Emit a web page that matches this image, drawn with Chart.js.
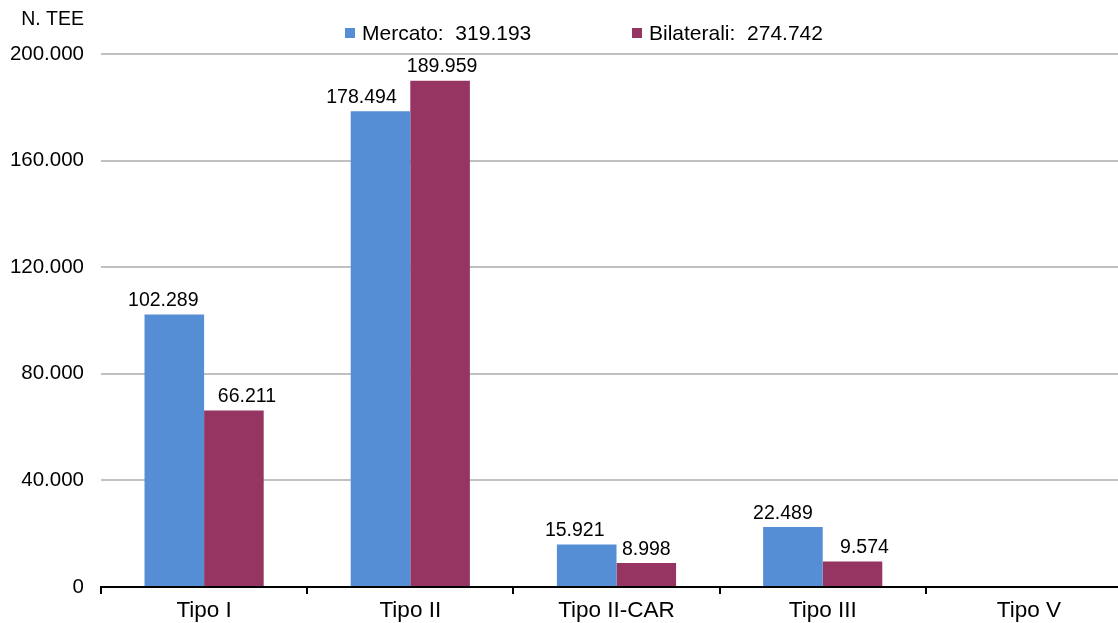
<!DOCTYPE html>
<html lang="it">
<head>
<meta charset="utf-8">
<title>N. TEE per tipologia</title>
<script src="https://cdn.jsdelivr.net/npm/chart.js@4/dist/chart.umd.min.js"></script>
<style>
  html, body { margin: 0; padding: 0; background: #ffffff; overflow: hidden; }
  #wrap { position: relative; width: 1132px; height: 623px; }
</style>
</head>
<body>
<div id="wrap"><canvas id="chart"></canvas></div>
<script>
// Titoli di efficienza energetica per tipologia
const categories = ['Tipo I', 'Tipo II', 'Tipo II-CAR', 'Tipo III', 'Tipo V'];
const mercato    = [102289, 178494, 15921, 22489, 0];
const bilaterali = [66211, 189959, 8998, 9574, 0];
const yTicks     = [0, 40000, 80000, 120000, 160000, 200000];

const seriesNames = ['Mercato', 'Bilaterali'];
const seriesColors = ['#558ED5', '#963462'];

const FONT = 'Liberation Sans, Arial, Helvetica, sans-serif';

// Italian thousands separator
function fmt(v) {
  return String(Math.round(v)).replace(/\B(?=(\d{3})+(?!\d))/g, '.');
}
const sum = a => a.reduce((s, v) => s + v, 0);
const totals = [sum(mercato), sum(bilaterali)];

// Value labels above each bar (nudged sideways so neighbours don't collide)
const valueLabels = {
  id: 'valueLabels',
  afterDatasetsDraw(chart, args, opts) {
    const ctx = chart.ctx;
    ctx.save();
    ctx.font = opts.font;
    ctx.fillStyle = '#000';
    ctx.textAlign = 'center';
    ctx.textBaseline = 'bottom';
    chart.data.datasets.forEach((ds, di) => {
      const meta = chart.getDatasetMeta(di);
      meta.data.forEach((bar, i) => {
        const v = ds.data[i];
        if (!v) return;
        const dx = (opts.shift[di] || [])[i] || 0;
        ctx.fillText(fmt(v), bar.x + dx, bar.y - 4);
      });
    });
    ctx.restore();
  }
};

// Axis caption and legend with series totals
const decorations = {
  id: 'decorations',
  afterDraw(chart, args, opts) {
    const ctx = chart.ctx;
    const area = chart.chartArea;
    ctx.save();
    ctx.fillStyle = '#000';
    ctx.textBaseline = 'middle';
    ctx.textAlign = 'right';
    ctx.font = opts.captionFont;
    ctx.fillText('N. TEE', area.left - 17, 20);

    ctx.textAlign = 'left';
    ctx.font = opts.legendFont;
    opts.legendX.forEach((x, k) => {
      ctx.fillStyle = seriesColors[k];
      ctx.fillRect(x, 28, 10, 10);
      ctx.fillStyle = '#000';
      ctx.fillText(seriesNames[k] + ':  ' + fmt(totals[k]), x + 17, 34);
    });
    ctx.restore();
  }
};

new Chart(document.getElementById('chart'), {
  type: 'bar',
  data: {
    labels: categories,
    datasets: [
      { label: seriesNames[0], data: mercato, backgroundColor: seriesColors[0] },
      { label: seriesNames[1], data: bilaterali, backgroundColor: seriesColors[1] }
    ]
  },
  options: {
    responsive: true,
    maintainAspectRatio: false,
    animation: false,
    layout: { padding: { top: 54, left: 0, right: 0, bottom: 0 } },
    datasets: { bar: { categoryPercentage: 0.578, barPercentage: 1.0 } },
    plugins: {
      legend: { display: false },
      tooltip: { enabled: false },
      valueLabels: {
        font: '19.5px ' + FONT,
        shift: [[-11, -19, -12, -10, 0], [13, 2, 0, 12, 0]]
      },
      decorations: {
        captionFont: '19.5px ' + FONT,
        legendFont: '21px ' + FONT,
        legendX: [345, 632]
      }
    },
    scales: {
      x: {
        afterFit(scale) { scale.height = 36; },
        grid: {
          display: true,
          drawOnChartArea: false,
          drawTicks: true,
          tickLength: 7,
          color: '#000',
          lineWidth: 2,
          offset: true
        },
        border: { display: true, color: '#000', width: 2 },
        ticks: { color: '#000', font: { family: FONT, size: 22.5 }, padding: 3 }
      },
      y: {
        min: 0,
        max: 200000,
        afterFit(scale) { scale.width = 101; },
        afterBuildTicks(scale) { scale.ticks = yTicks.map(v => ({ value: v })); },
        grid: { color: '#C0C0C0', lineWidth: 2, drawTicks: false },
        border: { display: false },
        ticks: {
          color: '#000',
          padding: 17,
          font: { family: FONT, size: 20.5 },
          callback: v => fmt(v)
        }
      }
    }
  },
  plugins: [valueLabels, decorations]
});
</script>
</body>
</html>
